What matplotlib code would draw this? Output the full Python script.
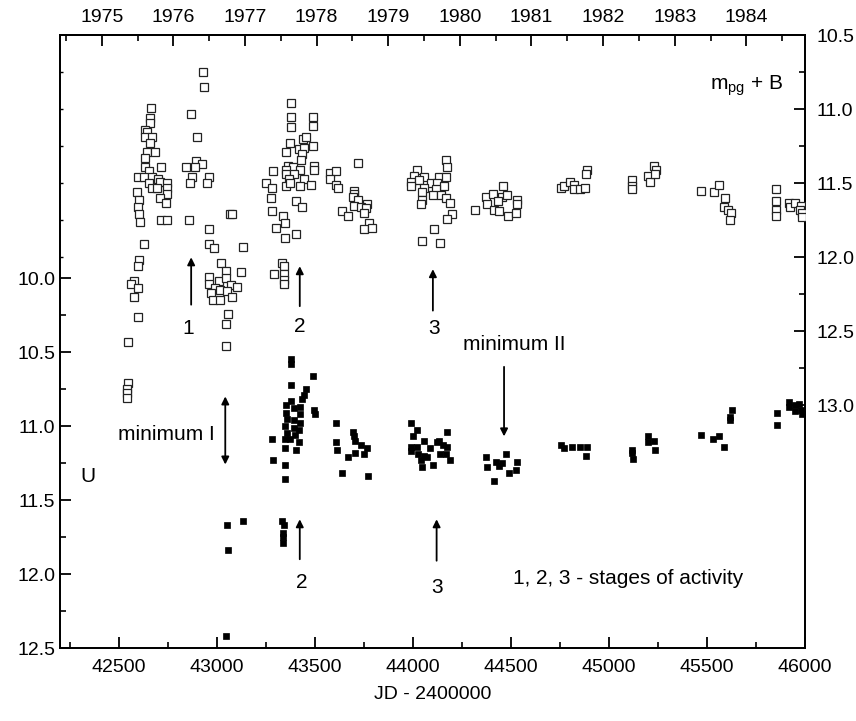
import matplotlib
matplotlib.use("Agg")
import matplotlib.pyplot as plt
from matplotlib.ticker import MultipleLocator, FixedLocator

plt.rcParams['font.family'] = ['Liberation Sans', 'DejaVu Sans']
plt.rcParams['mathtext.default'] = 'regular'

# ---- m_pg + B (open squares, right axis) ----
B_jd_1975 = [42663, 42660, 42660, 42634, 42643, 42634, 42669, 42660, 42643, 42685, 42634, 42634,
             42715, 42656, 42600, 42629, 42669, 42702, 42656, 42711, 42745, 42669, 42694, 42745,
             42595, 42745, 42711, 42605, 42740, 42600, 42605, 42609, 42715, 42748, 42629, 42602,
             42600, 42578, 42561, 42597, 42575, 42599, 42549, 42546, 42541, 42541, 42541]
B_mag_1975 = [10.99, 11.06, 11.09, 11.14, 11.15, 11.19, 11.19, 11.23, 11.29, 11.29, 11.33, 11.39,
              11.39, 11.42, 11.46, 11.46, 11.46, 11.47, 11.50, 11.49, 11.50, 11.53, 11.53, 11.53,
              11.56, 11.57, 11.60, 11.61, 11.63, 11.66, 11.71, 11.76, 11.75, 11.75, 11.91, 12.02,
              12.06, 12.16, 12.18, 12.21, 12.27, 12.40, 12.57, 12.85, 12.89, 12.92, 12.95]
B_jd_1976 = [42929, 42932, 42869, 42898, 42895, 42924, 42844, 42890, 42873, 42958, 42864, 42950,
             42859, 43069, 43075, 42961, 42958, 42988, 43132, 43021, 43123, 43048, 42958, 43009,
             43048, 42958, 42992, 43018, 43072, 43103, 42972, 43052, 43077, 42980, 43018, 43055,
             43048, 43047]
B_mag_1976 = [10.75, 10.85, 11.03, 11.19, 11.35, 11.37, 11.39, 11.39, 11.46, 11.46, 11.50, 11.50,
              11.75, 11.71, 11.71, 11.81, 11.91, 11.94, 11.93, 12.04, 12.10, 12.09, 12.13, 12.16,
              12.14, 12.18, 12.21, 12.22, 12.19, 12.20, 12.24, 12.23, 12.27, 12.29, 12.29, 12.38,
              12.45, 12.60]
B_jd_1978 = [43379, 43379, 43491, 43379, 43491, 43438, 43456, 43375, 43489, 43421, 43447, 43355,
             43435, 43430, 43287, 43361, 43389, 43426, 43498, 43498, 43355, 43351, 43396, 43367,
             43447, 43253, 43282, 43355, 43372, 43423, 43478, 43277, 43406, 43435, 43282, 43338,
             43350, 43304, 43404, 43346, 43333, 43345, 43290, 43341, 43341, 43341,
             43576, 43609, 43576, 43609, 43617, 43721, 43699, 43702, 43696, 43719, 43767, 43702,
             43733, 43759, 43636, 43670, 43750, 43775, 43753, 43793]
B_mag_1978 = [10.96, 11.05, 11.05, 11.12, 11.11, 11.20, 11.19, 11.23, 11.25, 11.27, 11.26, 11.29,
              11.30, 11.34, 11.42, 11.38, 11.39, 11.41, 11.38, 11.41, 11.41, 11.44, 11.44, 11.47,
              11.47, 11.50, 11.53, 11.52, 11.50, 11.52, 11.51, 11.60, 11.62, 11.66, 11.69, 11.72,
              11.77, 11.80, 11.84, 11.87, 12.04, 12.06, 12.11, 12.11, 12.15, 12.18,
              11.43, 11.42, 11.47, 11.51, 11.53, 11.36, 11.55, 11.57, 11.59, 11.61, 11.64, 11.65,
              11.66, 11.67, 11.69, 11.72, 11.70, 11.77, 11.81, 11.80]
B_jd_1979 = [44167, 44176, 44023, 44005, 44056, 44133, 44167, 43989, 44031, 44091, 44121, 44159,
             43989, 44056, 44116, 44048, 44104, 44142, 44167, 44048, 44043, 44189, 44201, 44172,
             44108, 44048, 44138]
B_mag_1979 = [11.34, 11.39, 11.41, 11.45, 11.46, 11.46, 11.46, 11.49, 11.48, 11.50, 11.50, 11.52,
              11.52, 11.53, 11.54, 11.56, 11.58, 11.58, 11.60, 11.61, 11.64, 11.63, 11.71, 11.74,
              11.81, 11.89, 11.90]
B_jd_late = [44316, 44372, 44380, 44411, 44462, 44452, 44478, 44435, 44414, 44440, 44486, 44525,
             44530, 44530,
             44755, 44769, 44802, 44823, 44820, 44854, 44879, 44888, 44884,
             45116, 45118, 45116, 45198, 45210, 45232, 45240, 45237,
             45470, 45535, 45559, 45590, 45586, 45606, 45624, 45620,
             45854, 45854, 45854, 45854, 45917, 45922, 45947, 45978, 45973, 45985, 45987]
B_mag_late = [11.68, 11.59, 11.64, 11.57, 11.52, 11.59, 11.58, 11.62, 11.68, 11.69, 11.72, 11.70,
              11.61, 11.64,
              11.53, 11.52, 11.49, 11.51, 11.54, 11.54, 11.53, 11.41, 11.44,
              11.48, 11.52, 11.54, 11.45, 11.49, 11.38, 11.41, 11.44,
              11.55, 11.56, 11.51, 11.60, 11.66, 11.68, 11.70, 11.75,
              11.54, 11.62, 11.68, 11.72, 11.63, 11.66, 11.63, 11.65, 11.68, 11.70, 11.73]

# ---- U (filled squares, left axis) ----
U_jd_1977 = [43052, 43132, 43055, 43048]
U_mag_1977 = [11.67, 11.64, 11.84, 12.42]
U_jd_1978 = [43379, 43379, 43489, 43379, 43457, 43447, 43435, 43379, 43355, 43392, 43426, 43494,
             43499, 43355, 43426, 43358, 43392, 43426, 43350, 43392, 43418, 43358, 43401, 43282,
             43350, 43375, 43418, 43350, 43406, 43285, 43350, 43349, 43333, 43345, 43336, 43338,
             43338,
             43609, 43696, 43699, 43610, 43707, 43733, 43767, 43614, 43707, 43750, 43670, 43636,
             43772]
U_mag_1978 = [10.55, 10.58, 10.66, 10.72, 10.75, 10.79, 10.82, 10.83, 10.86, 10.88, 10.87, 10.89,
              10.92, 10.91, 10.92, 10.95, 10.96, 10.98, 11.00, 11.01, 11.03, 11.05, 11.06, 11.09,
              11.09, 11.09, 11.11, 11.15, 11.16, 11.23, 11.26, 11.36, 11.64, 11.67, 11.72, 11.75,
              11.79,
              10.98, 11.04, 11.07, 11.11, 11.10, 11.13, 11.15, 11.16, 11.18, 11.19, 11.21, 11.32,
              11.34]
U_jd_1979 = [43992, 44023, 44000, 44056, 44176, 43992, 43992, 44023, 44087, 44121, 44133, 44156,
             44176, 44026, 44056, 44074, 44138, 44167, 44043, 44189, 44104, 44048]
U_mag_1979 = [10.98, 11.03, 11.07, 11.10, 11.04, 11.14, 11.17, 11.14, 11.15, 11.11, 11.10, 11.13,
              11.14, 11.19, 11.20, 11.21, 11.19, 11.19, 11.23, 11.23, 11.26, 11.28]
U_jd_late = [44372, 44474, 44423, 44452, 44380, 44440, 44530, 44525, 44488, 44414,
             44755, 44769, 44810, 44854, 44888, 44883,
             45116, 45118, 45121, 45198, 45229, 45198, 45235,
             45470, 45533, 45559, 45586, 45627, 45620, 45615,
             45855, 45857, 45916, 45921, 45947, 45972, 45947, 45978, 45985]
U_mag_late = [11.21, 11.19, 11.24, 11.25, 11.28, 11.27, 11.24, 11.30, 11.32, 11.37,
              11.13, 11.15, 11.14, 11.14, 11.14, 11.20,
              11.16, 11.18, 11.22, 11.07, 11.10, 11.11, 11.16,
              11.06, 11.09, 11.07, 11.14, 10.89, 10.94, 10.96,
              10.91, 10.99, 10.84, 10.87, 10.86, 10.85, 10.90, 10.89, 10.92]

B_jd = B_jd_1975 + B_jd_1976 + B_jd_1978 + B_jd_1979 + B_jd_late
B_mag = B_mag_1975 + B_mag_1976 + B_mag_1978 + B_mag_1979 + B_mag_late
U_jd = U_jd_1977 + U_jd_1978 + U_jd_1979 + U_jd_late
U_mag = U_mag_1977 + U_mag_1978 + U_mag_1979 + U_mag_late

year_labels = [1975, 1976, 1977, 1978, 1979, 1980, 1981, 1982, 1983, 1984]
x_ticks = [42500, 43000, 43500, 44000, 44500, 45000, 45500, 46000]
U_ticks = [10.0, 10.5, 11.0, 11.5, 12.0, 12.5]
B_ticks = [10.5, 11.0, 11.5, 12.0, 12.5, 13.0]

FS = 14
fig = plt.figure(figsize=(8.56, 7.21), dpi=100)
ax = fig.add_axes([0.0701, 0.1012, 0.8703, 0.8498])
ax.set_xlim(42200, 46000)
ax.set_ylim(12.5, 8.36)
axr = ax.twinx()
axr.set_ylim(14.64, 10.5)

axr.plot(B_jd, B_mag, 's', ms=5.4, mfc='white', mec='#222222', mew=0.9, ls='none', zorder=3)
ax.plot(U_jd, U_mag, 's', ms=4.4, mfc='black', mec='black', mew=0.5, ls='none', zorder=3)

for a in (ax, axr):
    for s in a.spines.values():
        s.set_linewidth(1.3)

ax.set_xticks(x_ticks)
ax.xaxis.set_minor_locator(MultipleLocator(250))
ax.set_yticks(U_ticks)
ax.yaxis.set_minor_locator(FixedLocator([10.25, 10.75, 11.25, 11.75, 12.25]))
ax.tick_params(axis='both', which='major', direction='in', length=8, width=1.3, labelsize=FS)
ax.tick_params(axis='both', which='minor', direction='in', length=4.5, width=1.2)
ax.tick_params(axis='x', top=False, pad=8)
ax.set_yticklabels([f"{v:.1f}" for v in U_ticks])

axr.set_yticks(B_ticks)
axr.yaxis.set_minor_locator(FixedLocator([10.75, 11.25, 11.75, 12.25, 12.75]))
axr.tick_params(axis='y', which='major', direction='in', length=8, width=1.3, labelsize=FS, pad=8)
axr.tick_params(axis='y', which='minor', direction='in', length=4.5, width=1.2)
axr.set_yticklabels([f"{v:.1f}" for v in B_ticks])

# tiny ticks of the B scale on the left spine
axt = ax.twinx()
axt.set_ylim(14.64, 10.5)
axt.yaxis.set_ticks_position('left')
axt.set_yticks([10.75, 11.0, 11.25, 11.5, 11.75, 12.0])
axt.tick_params(axis='y', direction='in', length=2, width=1.0, labelleft=False, labelright=False)
for s in axt.spines.values():
    s.set_visible(False)

# top axis in years
def jd2yr(j):
    return 1975 + (j - 42413.5) / 365.25

def yr2jd(y):
    return 42413.5 + (y - 1975) * 365.25

top = ax.secondary_xaxis('top', functions=(jd2yr, yr2jd))
top.set_xticks(year_labels)
top.set_xticklabels([str(y) for y in year_labels])
top.xaxis.set_minor_locator(FixedLocator([y + 0.5 for y in [1974] + year_labels]))
top.tick_params(which='major', direction='in', length=8, width=1.3, labelsize=FS, pad=7)
top.tick_params(which='minor', direction='in', length=4.5, width=1.2)
top.spines['top'].set_linewidth(1.3)

ax.set_xlabel('JD - 2400000', fontsize=FS, labelpad=7)

# annotations (left U scale)
arr = dict(arrowstyle='-|>', color='black', lw=1.3, mutation_scale=11, shrinkA=0, shrinkB=0)
arr2 = dict(arrowstyle='<|-|>', color='black', lw=1.3, mutation_scale=11, shrinkA=0, shrinkB=0)
TS = 15
ax.annotate('', xy=(42869, 9.86), xytext=(42869, 10.18), arrowprops=arr)
ax.text(42856, 10.34, '1', fontsize=TS, ha='center', va='center')
ax.annotate('', xy=(43423, 9.92), xytext=(43423, 10.19), arrowprops=arr)
ax.text(43423, 10.33, '2', fontsize=TS, ha='center', va='center')
ax.annotate('', xy=(44102, 9.94), xytext=(44102, 10.22), arrowprops=arr)
ax.text(44108, 10.34, '3', fontsize=TS, ha='center', va='center')

ax.text(44516, 10.45, 'minimum II', fontsize=TS, ha='center', va='center')
ax.annotate('', xy=(44465, 11.07), xytext=(44465, 10.60), arrowprops=arr)

ax.text(42745, 11.06, 'minimum I', fontsize=TS, ha='center', va='center')
ax.annotate('', xy=(43043, 11.26), xytext=(43043, 10.80), arrowprops=arr2)

ax.text(42345, 11.34, 'U', fontsize=TS, ha='center', va='center')

ax.annotate('', xy=(43423, 11.63), xytext=(43423, 11.90), arrowprops=arr)
ax.text(43431, 12.06, '2', fontsize=TS, ha='center', va='center')
ax.annotate('', xy=(44121, 11.63), xytext=(44121, 11.91), arrowprops=arr)
ax.text(44121, 12.09, '3', fontsize=TS, ha='center', va='center')

ax.text(45097, 12.03, '1, 2, 3 - stages of activity', fontsize=TS, ha='center', va='center')
ax.text(45700, 8.70, 'm$_{pg}$ + B', fontsize=TS, ha='center', va='center')

fig.savefig('out.png', dpi=100)
